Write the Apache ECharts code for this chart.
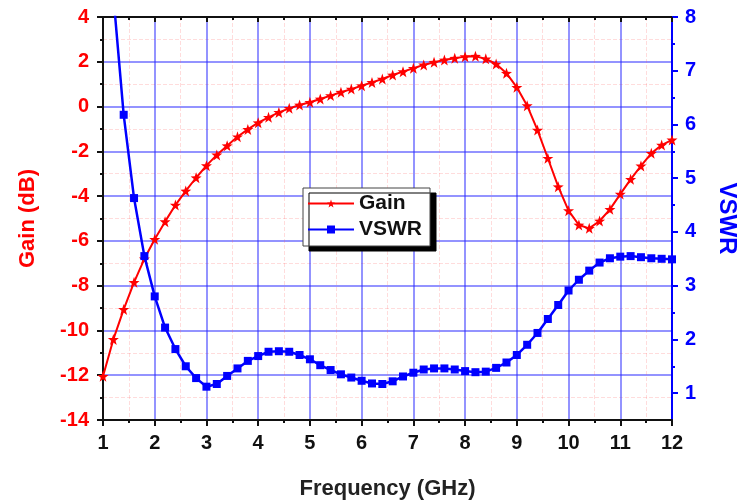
<!DOCTYPE html>
<html>
<head>
<meta charset="utf-8">
<script src="https://cdn.jsdelivr.net/npm/echarts@6/dist/echarts.min.js"></script>
<style>
  html, body { margin: 0; padding: 0; background: #fff; }
  #chart { width: 739px; height: 502px; }
</style>
</head>
<body>
<div id="chart"></div>
<script>
// frequency points (GHz)
var freq = [1.0, 1.2, 1.4, 1.6, 1.8, 2.0, 2.2, 2.4, 2.6, 2.8,
            3.0, 3.2, 3.4, 3.6, 3.8, 4.0, 4.2, 4.4, 4.6, 4.8,
            5.0, 5.2, 5.4, 5.6, 5.8, 6.0, 6.2, 6.4, 6.6, 6.8,
            7.0, 7.2, 7.4, 7.6, 7.8, 8.0, 8.2, 8.4, 8.6, 8.8,
            9.0, 9.2, 9.4, 9.6, 9.8, 10.0, 10.2, 10.4, 10.6, 10.8,
            11.0, 11.2, 11.4, 11.6, 11.8, 12.0];

// gain (dB)
var gain = [-12.05, -10.4, -9.06, -7.85, -6.8, -5.93, -5.14, -4.4, -3.77, -3.18,
            -2.64, -2.16, -1.75, -1.35, -1.02, -0.72, -0.48, -0.26, -0.08, 0.07,
            0.19, 0.34, 0.49, 0.64, 0.78, 0.93, 1.08, 1.23, 1.41, 1.56,
            1.71, 1.86, 1.98, 2.08, 2.16, 2.23, 2.25, 2.13, 1.9, 1.49,
            0.86, 0.04, -1.05, -2.31, -3.58, -4.65, -5.29, -5.44, -5.11, -4.59,
            -3.91, -3.25, -2.65, -2.09, -1.72, -1.49];

// VSWR
var vswr = [10.5, 8.4, 6.18, 4.63, 3.55, 2.8, 2.22, 1.82, 1.5, 1.28,
            1.12, 1.17, 1.32, 1.46, 1.6, 1.69, 1.77, 1.78, 1.77, 1.71,
            1.63, 1.52, 1.43, 1.35, 1.29, 1.23, 1.18, 1.17, 1.22, 1.31,
            1.38, 1.44, 1.46, 1.46, 1.44, 1.41, 1.39, 1.4, 1.47, 1.57,
            1.71, 1.9, 2.12, 2.38, 2.64, 2.91, 3.11, 3.28, 3.43, 3.51,
            3.54, 3.55, 3.53, 3.51, 3.5, 3.49];

var vswrMajor = [1, 2, 3, 4, 5, 6, 7, 8];
var vswrMinor = [1.5, 2.5, 3.5, 4.5, 5.5, 6.5, 7.5];

var font = 'Arial, "Liberation Sans", sans-serif';
var red = '#ff0000';
var blue = '#0000ff';
var star = 'path://M0,-10 L2.35,-3.24 L9.51,-3.09 L3.8,1.24 L5.88,8.09 L0,4 L-5.88,8.09 L-3.8,1.24 L-9.51,-3.09 L-2.35,-3.24 Z';

function pairs(xs, ys) {
    return xs.map(function (x, i) { return [x, ys[i]]; });
}

var chart = echarts.init(document.getElementById('chart'));

chart.setOption({
    animation: false,
    grid: {left: 103, right: 67, top: 17, bottom: 82, containLabel: false, outerBoundsMode: 'none'},
    legend: {
        orient: 'vertical',
        left: 303,
        top: 188,
        padding: [5, 8, 6, 4],
        itemGap: 5,
        itemWidth: 46,
        itemHeight: 10,
        backgroundColor: '#fff',
        borderColor: '#444',
        borderWidth: 1,
        shadowColor: '#000',
        shadowOffsetX: 6,
        shadowOffsetY: 5,
        shadowBlur: 0,
        textStyle: {fontFamily: font, fontWeight: 'bold', fontSize: 21, color: '#111'},
        data: ['Gain', 'VSWR']
    },
    xAxis: [{
        type: 'value',
        min: 1, max: 12, interval: 1,
        name: 'Frequency (GHz)',
        nameLocation: 'middle',
        nameGap: 58,
        nameTextStyle: {fontFamily: font, fontWeight: 'bold', fontSize: 22, color: '#222'},
        axisLine: {show: true, onZero: false, lineStyle: {color: '#111', width: 2}},
        axisTick: {show: true, inside: false, length: 6, lineStyle: {color: '#111', width: 2}},
        minorTick: {show: true, splitNumber: 2, length: 3, lineStyle: {color: '#111', width: 2}},
        axisLabel: {fontFamily: font, fontWeight: 'bold', fontSize: 20, color: '#111', margin: 13},
        splitLine: {show: true, lineStyle: {color: 'rgba(40,40,255,0.5)', width: 2}},
        minorSplitLine: {show: true, lineStyle: {color: 'rgba(255,80,80,0.2)', width: 1, type: 'dashed'}}
    }, {
        type: 'value',
        position: 'top',
        min: 1, max: 12, interval: 1,
        axisLine: {show: true, onZero: false, lineStyle: {color: '#111', width: 2}},
        axisTick: {show: true, inside: true, length: 5, lineStyle: {color: '#111', width: 2}},
        minorTick: {show: true, splitNumber: 2, length: 3, lineStyle: {color: '#111', width: 2}},
        axisLabel: {show: false},
        splitLine: {show: false}
    }],
    yAxis: [{
        type: 'value',
        min: -14, max: 4, interval: 2,
        name: 'Gain (dB)',
        nameLocation: 'middle',
        nameGap: 64,
        nameTextStyle: {fontFamily: font, fontWeight: 'bold', fontSize: 22, color: red},
        axisLine: {show: true, onZero: false, lineStyle: {color: '#111', width: 2}},
        axisTick: {show: true, length: 6, lineStyle: {color: '#111', width: 2}},
        minorTick: {show: true, splitNumber: 2, length: 3, lineStyle: {color: '#111', width: 2}},
        axisLabel: {fontFamily: font, fontWeight: 'bold', fontSize: 20, color: red, margin: 14},
        splitLine: {show: true, lineStyle: {color: 'rgba(40,40,255,0.5)', width: 2}},
        minorSplitLine: {show: true, lineStyle: {color: 'rgba(255,80,80,0.2)', width: 1, type: 'dashed'}}
    }, {
        type: 'value',
        position: 'right',
        min: 0.5, max: 8, interval: 0.5,
        name: 'VSWR',
        nameLocation: 'middle',
        nameGap: 43,
        nameRotate: -90,
        nameTextStyle: {fontFamily: font, fontWeight: 'bold', fontSize: 24, color: blue},
        axisLine: {show: true, onZero: false, lineStyle: {color: blue, width: 2}},
        axisTick: {show: true, length: 6, customValues: vswrMajor, lineStyle: {color: blue, width: 2}},
        axisLabel: {fontFamily: font, fontWeight: 'bold', fontSize: 20, color: blue, margin: 13, customValues: vswrMajor},
        splitLine: {show: false}
    }, {
        type: 'value',
        position: 'right',
        min: 0.5, max: 8, interval: 0.5,
        axisLine: {show: false},
        axisTick: {show: true, length: 3, customValues: vswrMinor, lineStyle: {color: blue, width: 2}},
        axisLabel: {show: false},
        splitLine: {show: false}
    }],
    series: [{
        name: 'Gain',
        type: 'line',
        xAxisIndex: 0,
        yAxisIndex: 0,
        data: pairs(freq, gain),
        symbol: star,
        symbolSize: 11,
        showAllSymbol: true,
        lineStyle: {color: red, width: 2},
        itemStyle: {color: red},
        z: 3
    }, {
        name: 'VSWR',
        type: 'line',
        xAxisIndex: 0,
        yAxisIndex: 1,
        data: pairs(freq, vswr),
        symbol: 'rect',
        symbolSize: 8,
        showAllSymbol: true,
        lineStyle: {color: blue, width: 2.5},
        itemStyle: {color: blue},
        z: 4
    }]
});
</script>
</body>
</html>
